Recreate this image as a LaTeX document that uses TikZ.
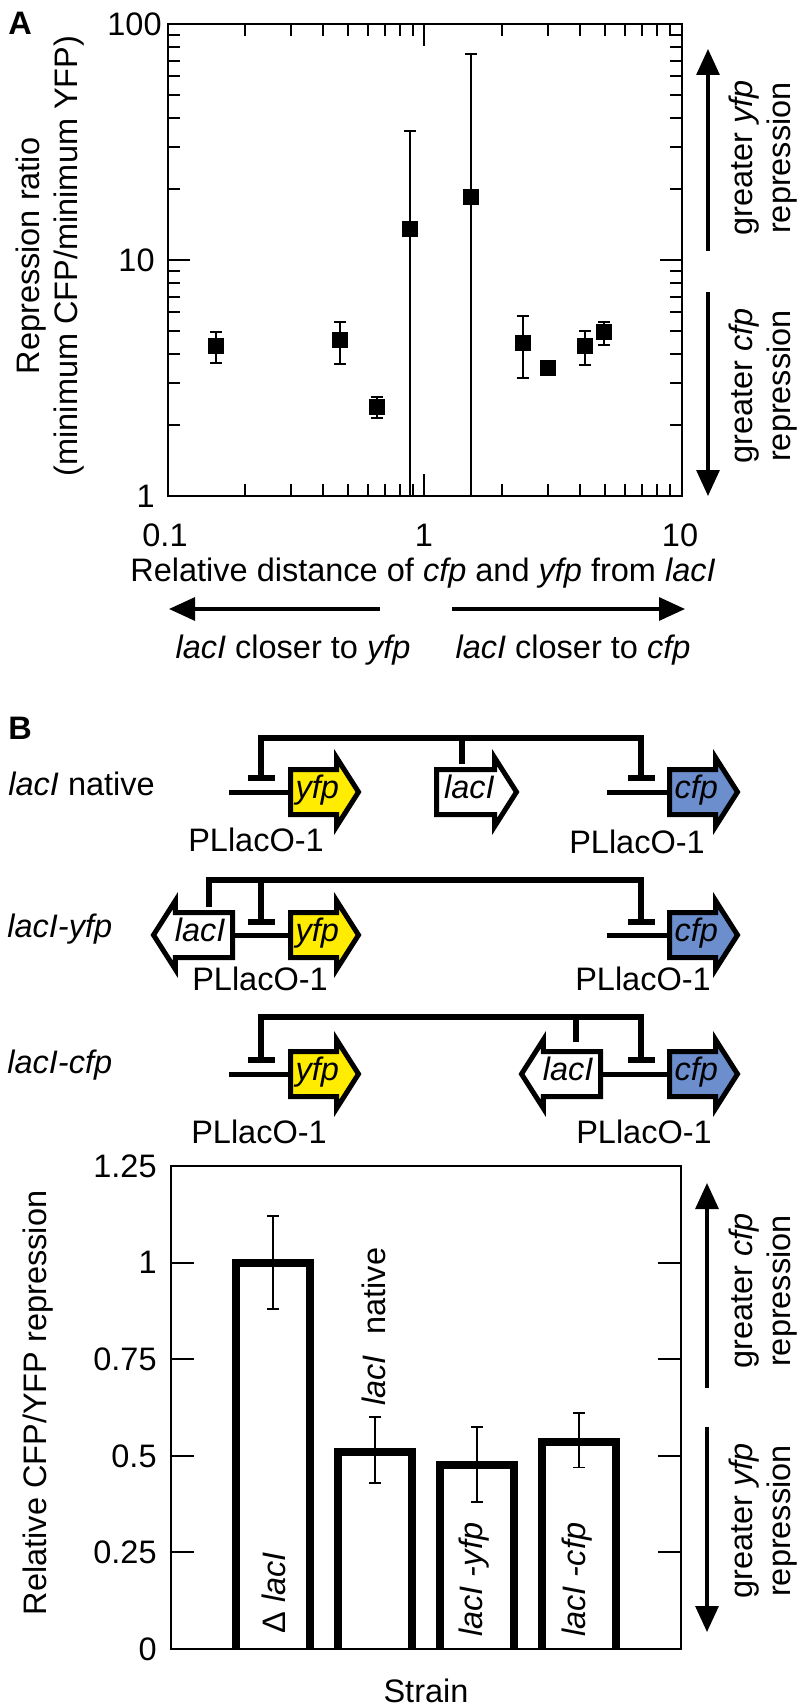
\documentclass[tikz,border=0pt]{standalone}
\usepackage{fontspec}
\setmainfont{Liberation Sans}
\usetikzlibrary{arrows.meta,shapes.arrows}
\definecolor{yfpcol}{RGB}{255,236,0}
\definecolor{cfpcol}{RGB}{108,142,204}

\begin{document}
\begin{tikzpicture}
  [x = 0.5pt, y = -0.5pt, line join = miter,
   every node/.style = {inner sep = 0pt},
   ax/.style = {line width = 1.2pt},
   tk/.style = {line width = 1pt},
   err/.style = {line width = 0.9pt},
   bigarrow/.style = {line width = 1.6pt, -{Triangle[length = 13pt, width = 11.5pt]}},
   gene/.style = {single arrow, draw, line width = 2.5pt, anchor = tail,
                  single arrow head extend = 6pt, single arrow tip angle = 115,
                  text height = 9pt, text depth = 3pt, inner ysep = 4pt, inner xsep = 1pt,
                  minimum height = 34pt, font = \itshape},
   dna/.style = {line width = 2.5pt},
   repress/.style = {line width = 3pt},
   marker/.style = {fill = black, minimum size = 8pt}]
  \fontsize{16.25pt}{19pt}\selectfont
  \useasboundingbox (0,0) rectangle (800,1706);

  % ---------- panel A ----------
  \node[font = \bfseries] (labA) at (20,23) {A};
  \draw[ax] (168,24) rectangle (682,496);
  \foreach \d in {0,1}
    \foreach \m in {2,...,9} {
      \pgfmathsetmacro\tx{168+257*(\d+log10(\m))}
      \pgfmathsetmacro\ty{496-236*(\d+log10(\m))}
      \draw[tk] (\tx,24) -- ++(0,12) (\tx,496) -- ++(0,-12)
                (168,\ty) -- ++(12,0) (682,\ty) -- ++(-12,0);
    }
  \draw[tk] (424,24) -- ++(0,22) (424,496) -- ++(0,-22)
            (168,260) -- ++(22,0) (682,260) -- ++(-22,0);
  \node[anchor = east] (y100) at (162,24) {100};
  \node[anchor = east] (y10) at (155,260) {10};
  \node[anchor = east] (y1) at (155,496) {1};
  \node (x01) at (165,535) {0.1};
  \node (x1) at (424,535) {1};
  \node (x10) at (680,535) {10};

  \begin{scope}[shift = {(168,496)}, x = 128.5pt, y = 118pt]
    \foreach \vx/\vy/\lo/\hi [count = \i] in
      {0.152/4.32/3.66/4.95, 0.467/4.58/3.62/5.46, 0.650/2.38/2.14/2.62,
       0.875/13.5/1/35.2, 1.51/18.5/1/74.6, 2.40/4.45/3.16/5.79,
       3.01/3.49/3.49/3.49, 4.19/4.32/3.59/5.0, 4.97/4.95/4.36/5.46} {
      \draw[err] ({log10(\vx)+1},{log10(\lo)}) -- ({log10(\vx)+1},{log10(\hi)})
                 ({log10(\vx)+1},{log10(\lo)}) ++(-3pt,0) -- ++(6pt,0)
                 ({log10(\vx)+1},{log10(\hi)}) ++(-3pt,0) -- ++(6pt,0);
      \node[marker] (pt\i) at ({log10(\vx)+1},{log10(\vy)}) {};
    }
  \end{scope}

  \node[rotate = 90, align = center] (ylabA) at (50,256)
    {Repression ratio\\(minimum CFP/minimum YFP)};
  \node (xlabA) at (423,573)
    {Relative distance of \textit{cfp} and \textit{yfp} from \textit{lacI}};
  \draw[bigarrow] (380,609) -- (169,609);
  \draw[bigarrow] (452,609) -- (685,609);
  \node (closeY) at (293,650) {\textit{lacI} closer to \textit{yfp}};
  \node (closeC) at (573,650) {\textit{lacI} closer to \textit{cfp}};
  \draw[bigarrow] (708,251) -- (708,49);
  \draw[bigarrow] (708,292) -- (708,496);
  \node[rotate = 90, align = center] (gyA) at (763,158) {greater \textit{yfp}\\repression};
  \node[rotate = 90, align = center] (gcA) at (763,386) {greater \textit{cfp}\\repression};

  % ---------- panel B, constructs ----------
  \node[font = \bfseries] (labB) at (20,728) {B};
  \node[anchor = base west] (row1) at (8,795) {\textit{lacI} native};
  \node[anchor = base west] (row2) at (7,937) {\textit{lacI-yfp}};
  \node[anchor = base west] (row3) at (7,1073) {\textit{lacI-cfp}};

  \node[gene, fill = yfpcol] (y1) at (288,792) {yfp};
  \node[gene, fill = white, minimum height = 40pt] (l1) at (434,792) {lacI};
  \node[gene, fill = cfpcol] (c1) at (667,792) {cfp};
  \node[gene, fill = white, minimum height = 39.5pt, shape border rotate = 180] (l2) at (235,935) {lacI};
  \node[gene, fill = yfpcol] (y2) at (288,935) {yfp};
  \node[gene, fill = cfpcol] (c2) at (667,935) {cfp};
  \node[gene, fill = yfpcol] (y3) at (288,1074) {yfp};
  \node[gene, fill = white, minimum height = 39.5pt, shape border rotate = 180] (l3) at (603,1074) {lacI};
  \node[gene, fill = cfpcol] (c3) at (667,1074) {cfp};

  \coordinate (pY1) at (229,792);
  \coordinate (pC1) at (607,792);
  \coordinate (pC2) at (607,935);
  \coordinate (pY3) at (229,1074);
  \foreach \from/\to in {pY1/y1.tail, pC1/c1.tail, l2.tail/y2.tail,
                         pC2/c2.tail, pY3/y3.tail, l3.tail/c3.tail}
    \draw[dna] (\from) -- (\to);

  \foreach \x/\y [count = \i] in {256/840, 637/842, 260/979, 643/979, 259/1132, 644/1132}
    \node (pl\i) at (\x,\y) {PLlacO-1};

  % repression by lacI
  \coordinate (hub1) at (462,738);
  \coordinate (st1) at (462,764);
  \coordinate (tY1) at (261,781);
  \coordinate (tC1) at (641,781);
  \draw[repress, {Bar[width = 13.5pt]}-{Bar[width = 13.5pt]}] (tY1) |- (hub1) -| (tC1);
  \draw[repress] (hub1) -- (st1);

  \coordinate (st2) at (209,907);
  \coordinate (hub2) at (261,880);
  \coordinate (tY2) at (261,925);
  \coordinate (tC2) at (641,925);
  \draw[repress, -{Bar[width = 13.5pt]}] (st2) |- (hub2) -| (tC2);
  \draw[repress, -{Bar[width = 13.5pt]}] (hub2) -- (tY2);

  \coordinate (hub3) at (576,1017);
  \coordinate (st3) at (576,1042);
  \coordinate (tY3) at (261,1063);
  \coordinate (tC3) at (641,1063);
  \draw[repress, {Bar[width = 13.5pt]}-{Bar[width = 13.5pt]}] (tY3) |- (hub3) -| (tC3);
  \draw[repress] (hub3) -- (st3);

  % ---------- panel B, bar chart ----------
  \draw[ax] (171,1166) rectangle (681,1649);
  \foreach \v in {0.25,0.5,0.75,1}
    \draw[tk] (171,{1649-386.4*\v}) -- ++(23,0) (681,{1649-386.4*\v}) -- ++(-23,0);
  \foreach \v [count = \i] in {0,0.25,0.5,0.75,1,1.25}
    \node[anchor = east] (yt\i) at (157,{1649-386.4*\v}) {\v};

  \begin{scope}[shift = {(171,1649)}, y = 193.2pt]
    \foreach \cx/\h/\lo/\hi in {102/1.0/0.88/1.12, 204/0.51/0.43/0.60,
                                306/0.475/0.38/0.575, 408/0.535/0.47/0.61} {
      \draw[line width = 4pt] (\cx-37,0) -- (\cx-37,\h) -- (\cx+37,\h) -- (\cx+37,0);
      \draw[err] (\cx,\lo) -- (\cx,\hi) (\cx-6,\lo) -- (\cx+6,\lo) (\cx-6,\hi) -- (\cx+6,\hi);
    }
  \end{scope}

  \node[rotate = 90, anchor = west] (bl1) at (274,1634) {Δ \textit{lacI}};
  \node[rotate = 90, anchor = west] (bl2) at (374,1406) {\textit{lacI}\hspace{0.35em} native};
  \node[rotate = 90, anchor = west] (bl3) at (474,1637) {\textit{lacI -yfp}};
  \node[rotate = 90, anchor = west] (bl4) at (577,1637) {\textit{lacI -cfp}};

  \node[rotate = 90] (ylabB) at (38,1403) {Relative CFP/YFP repression};
  \node (strain) at (426,1691) {Strain};
  \draw[bigarrow] (707,1388) -- (707,1183);
  \draw[bigarrow] (707,1427) -- (707,1632);
  \node[rotate = 90, align = center] (gcB) at (763,1291) {greater \textit{cfp}\\repression};
  \node[rotate = 90, align = center] (gyB) at (763,1521) {greater \textit{yfp}\\repression};
\end{tikzpicture}
\end{document}
